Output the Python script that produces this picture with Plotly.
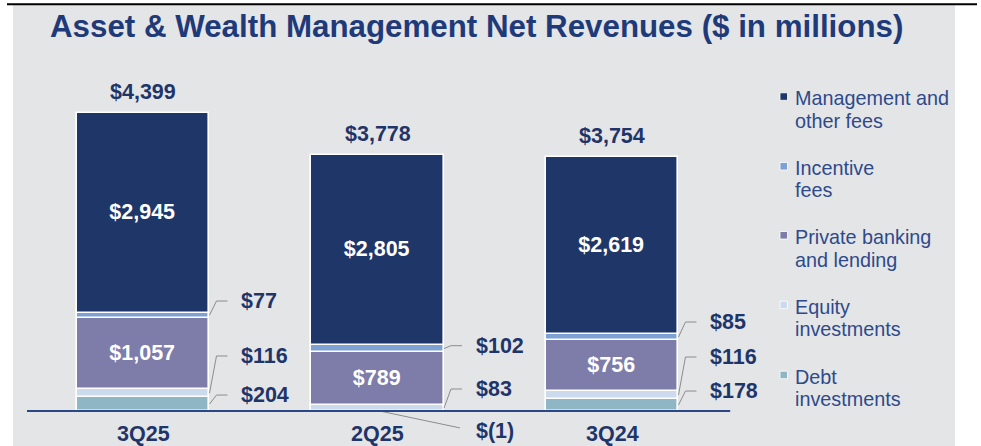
import plotly.graph_objects as go

# ---------------- data ----------------
categories = ["3Q25", "2Q25", "3Q24"]
debt_investments = [204, -1, 178]
equity_investments = [116, 83, 116]
private_banking = [1057, 789, 756]
incentive_fees = [77, 102, 85]
management_fees = [2945, 2805, 2619]
net_revenues = [4399, 3778, 3754]

series_names = ["Debt investments", "Equity investments", "Private banking and lending",
                "Incentive fees", "Management and other fees"]
series_values = [debt_investments, equity_investments, private_banking,
                 incentive_fees, management_fees]
series_colors = ["#8fb6c4", "#ccdaee", "#7e7ca9", "#7ca1d2", "#1f3668"]
legend_lines = [["Debt", "investments"], ["Equity", "investments"],
                ["Private banking", "and lending"], ["Incentive", "fees"],
                ["Management and", "other fees"]]
inside_label = [False, False, True, False, True]

# ---------------- style ----------------
NAVY = "#1f3569"
LEG = "#2e4a8a"
BG = "#e4e5e7"
FONT = "Arial, Liberation Sans, sans-serif"
BAR_W = 0.567
PXX = 234.5                 # px per x unit
PXY = 0.06768               # px per y unit
X_RANGE = [-0.5544, 3.4627]
Y_RANGE = [-517, 5999]

def money(v):
    return f"$({abs(v):,})" if v < 0 else f"${v:,}"

x_pos = list(range(len(categories)))
fig = go.Figure()

for name, vals, col, inside in zip(series_names, series_values, series_colors, inside_label):
    fig.add_trace(go.Bar(
        x=x_pos, y=vals, name=name, width=BAR_W,
        marker=dict(color=col, line=dict(color="white", width=1.6)),
        text=[f"<b>{money(v)}</b>" for v in vals] if inside else None,
        textposition="inside" if inside else "none",
        insidetextanchor="middle", textangle=0, constraintext="none",
        textfont=dict(family=FONT, size=21.5, color="white"),
        showlegend=False, hoverinfo="name+y",
    ))

# callout label vertical positions (data units) for the small segments
callout_y = {
    (0, 0): 236, (0, 1): 813, (0, 3): 1625,
    (1, 0): -295, (1, 1): 325, (1, 3): 965,
    (2, 0): 295, (2, 1): 798, (2, 3): 1315,
}

annotations = []
for i in x_pos:
    pos_base = 0.0
    neg_base = 0.0
    mids = {}
    for s, vals in enumerate(series_values):
        v = vals[i]
        if v >= 0:
            mids[s] = pos_base + v / 2
            pos_base += v
        else:
            mids[s] = neg_base + v / 2
            neg_base += v
    xr = i + BAR_W / 2
    for s in (0, 1, 3):
        v = series_values[s][i]
        ly = callout_y[(i, s)]
        if v < 0:
            lx = [i + 0.01, xr + 0.068]
            lyy = [mids[s], ly + 45]
        else:
            lx = [xr, xr + 7 / PXX, xr + 18 / PXX]
            lyy = [mids[s], ly, ly]
        fig.add_trace(go.Scatter(x=lx, y=lyy, mode="lines",
                                 line=dict(color="#8c8c8c", width=1),
                                 showlegend=False, hoverinfo="skip"))
        annotations.append(dict(x=xr + 30 / PXX, y=ly, xref="x", yref="y",
                                text=f"<b>{money(v)}</b>", showarrow=False,
                                xanchor="left", yanchor="middle",
                                font=dict(family=FONT, size=21.5, color=NAVY)))
    # total label
    annotations.append(dict(x=i, y=net_revenues[i], xref="x", yref="y",
                            text=f"<b>{money(net_revenues[i])}</b>", showarrow=False,
                            yanchor="middle", yshift=21,
                            font=dict(family=FONT, size=21.5, color=NAVY)))
    # category label
    annotations.append(dict(x=i, y=0, xref="x", yref="y",
                            text=f"<b>{categories[i]}</b>", showarrow=False,
                            yanchor="middle", yshift=-23, borderpad=0,
                            font=dict(family=FONT, size=21.5, color=NAVY)))

# title
def px_to_paper(px, py):
    return (px - 13) / 942, (446 - py) / 441

tx, ty = px_to_paper(48, 26)
annotations.append(dict(x=tx, y=ty, xref="paper", yref="paper",
                        text="<b>Asset & Wealth Management Net Revenues ($ in millions)</b>",
                        showarrow=False, xanchor="left", yanchor="middle",
                        font=dict(family=FONT, size=31.3, color="#1f3a78")))

shapes = []
# manual legend (top to bottom: management first)
leg_y = [98.3, 168, 237, 306.7, 376.7]
for k, s in enumerate(reversed(range(len(series_names)))):
    y1 = leg_y[k]
    for j, line in enumerate(legend_lines[s]):
        ax, ay = px_to_paper(793, y1 + j * 22.5)
        annotations.append(dict(x=ax, y=ay, xref="paper", yref="paper", text=line,
                                showarrow=False, xanchor="left", yanchor="middle",
                                font=dict(family=FONT, size=19.8, color=LEG)))
    sx0, sy0 = px_to_paper(780, y1 - 5.5)
    sx1, sy1 = px_to_paper(787.5, y1 + 2)
    shapes.append(dict(type="rect", xref="paper", yref="paper",
                       x0=sx0, x1=sx1, y0=sy1, y1=sy0,
                       fillcolor=series_colors[s], line=dict(color="white", width=0.8)))

# baseline
shapes.append(dict(type="line", xref="x", yref="y", x0=-0.4947, x1=2.504, y0=0, y1=0,
                   line=dict(color="#2b4788", width=2), layer="above"))
# black top rule
bx0, by = px_to_paper(7, 4.2)
bx1, _ = px_to_paper(977, 4.2)
shapes.append(dict(type="line", xref="paper", yref="paper", x0=bx0, x1=bx1, y0=by, y1=by,
                   line=dict(color="black", width=2)))

fig.update_layout(
    width=981, height=446,
    margin=dict(l=13, r=26, t=5, b=0, pad=0),
    paper_bgcolor="white", plot_bgcolor=BG,
    barmode="relative", bargap=0,
    xaxis=dict(range=X_RANGE, visible=False, fixedrange=True),
    yaxis=dict(range=Y_RANGE, visible=False, fixedrange=True),
    annotations=annotations, shapes=shapes,
    showlegend=False,
    font=dict(family=FONT),
)

fig.write_html("out.html", config={"displayModeBar": False},
               post_script="document.body.style.margin='0';document.body.style.overflow='hidden';")
